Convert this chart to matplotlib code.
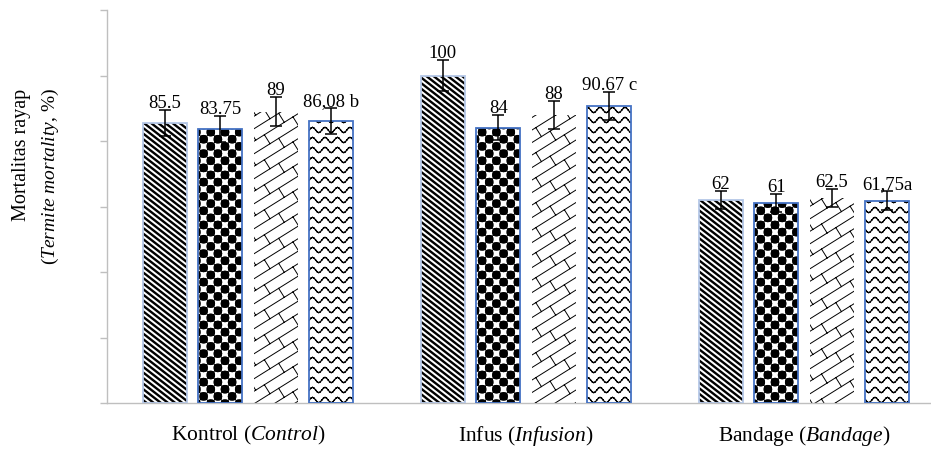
import warnings
warnings.filterwarnings('ignore')
import numpy as np
import matplotlib
matplotlib.use('Agg')
import matplotlib.pyplot as plt
from matplotlib import hatch as mhatch
from matplotlib.path import Path

# ---------------- data ----------------
categories = ['Kontrol ($\\mathit{Control}$)',
              'Infus ($\\mathit{Infusion}$)',
              'Bandage ($\\mathit{Bandage}$)']
series1 = [85.5, 100.0, 62.0]
series2 = [83.75, 84.0, 61.0]
series3 = [89.0, 88.0, 62.5]
series4 = [86.08, 90.67, 61.75]
err1 = [4.0, 4.6, 2.7]
err2 = [4.0, 3.8, 2.7]
err3 = [4.4, 4.2, 2.7]
err4 = [4.0, 4.2, 2.9]
labels1 = ['85.5', '100', '62']
labels2 = ['83.75', '84', '61']
labels3 = ['89', '88', '62.5']
labels4 = ['86,08 b', '90.67 c', '61,75a']
yticks = [0, 20, 40, 60, 80, 100, 120]

# ---------------- custom hatch patterns ----------------
class _CustomHatch(mhatch.HatchPatternBase):
    char = None

    def __init__(self, hatch, density):
        self.shapes = self.build() if (hatch and self.char in hatch) else []
        self.num_vertices = sum(len(s[0]) for s in self.shapes)

    def set_vertices_and_codes(self, vertices, codes):
        i = 0
        for verts, cds in self.shapes:
            n = len(verts)
            vertices[i:i + n] = verts
            codes[i:i + n] = cds
            i += n


def _seg(a, b):
    return (np.array([a, b], float), [Path.MOVETO, Path.LINETO])


def _poly(pts):
    pts = list(pts) + [pts[0]]
    return (np.array(pts, float),
            [Path.MOVETO] + [Path.LINETO] * (len(pts) - 2) + [Path.CLOSEPOLY])


class DownDiagHatch(_CustomHatch):
    char = 'd'

    def build(self):
        n, k = 18, 14
        s = k / n
        segs = []
        for j in range(-3, n + k + 4):
            c = j / n
            segs.append(_seg((-0.2, c + 0.2 * s), (1.2, c - 1.2 * s)))
        return segs


class WaveHatch(_CustomHatch):
    char = '~'

    def build(self):
        rows, periods, amp, k = 10, 8, 0.026, 8
        segs = []
        xs = np.linspace(-1 / periods, 1 + 1 / periods, (periods + 2) * k + 1)
        for r in range(-1, rows + 1):
            y0 = r / rows
            ys = y0 + amp * np.cos(2 * np.pi * periods * xs)
            for j in range(len(xs) - 1):
                segs.append(_seg((xs[j], ys[j]), (xs[j + 1], ys[j + 1])))
        return segs


class BrickHatch(_CustomHatch):
    char = 'b'

    def build(self):
        n, kk, q = 8, 5, 3
        s = kk / n
        d = 1.0 / n
        L = 2.0 / (2 * q + 1)
        lam = d / (1 + s * s)
        segs = []
        for k in range(-kk - 3, n + 4):
            c = k * d
            segs.append(_seg((-0.3, -0.3 * s + c), (1.3, 1.3 * s + c)))
            for j in range(-3, int(1.6 / L) + 3):
                t = j * L + (k % 2) * L / 2 - 0.3
                segs.append(_seg((t, s * t + c), (t - lam * s, s * t + c + lam)))
        return segs


class CheckerHatch(_CustomHatch):
    char = 'c'

    def build(self):
        N = 14
        sz = 1.0 / N
        shapes = []
        ang = np.linspace(0, 2 * np.pi, 17)[:-1]
        for i in range(-1, N + 1):
            for j in range(-1, N + 1):
                if (i + j) % 2 == 0:
                    x0, y0 = i * sz, j * sz
                    shapes.append(_poly([(x0, y0), (x0 + sz, y0),
                                         (x0 + sz, y0 + sz), (x0, y0 + sz)]))
                    cx, cy, r = x0 + sz / 2, y0 + sz / 2, 0.6 * sz
                    shapes.append(_poly([(cx + r * np.cos(a), cy + r * np.sin(a))
                                         for a in ang]))
        return shapes


for cls in (DownDiagHatch, WaveHatch, BrickHatch, CheckerHatch):
    if cls not in mhatch._hatch_types:
        mhatch._hatch_types.append(cls)

# ---------------- figure ----------------
plt.rcParams['font.family'] = ['Liberation Serif', 'DejaVu Serif']
plt.rcParams['mathtext.fontset'] = 'custom'
plt.rcParams['mathtext.rm'] = 'Liberation Serif'
plt.rcParams['mathtext.it'] = 'Liberation Serif:style=italic'

fig = plt.figure(figsize=(9.31, 4.5), dpi=100)
ax = fig.add_axes([107 / 931, 47 / 450, 824 / 931, 393 / 450])

x = np.arange(len(categories))
step, width = 0.2, 0.158
series = [series1, series2, series3, series4]
errs = [err1, err2, err3, err4]
labels = [labels1, labels2, labels3, labels4]
hatches = ['d', 'c', 'b', '~']
hatch_lw = [1.7, 0.2, 0.7, 0.9]
outline = ['#b4c7e7', '#4472c4', None, '#4472c4']

for i, (vals, er, lab) in enumerate(zip(series, errs, labels)):
    xpos = x + (i - 1.5) * step
    with plt.rc_context({'hatch.linewidth': hatch_lw[i]}):
        bars = ax.bar(xpos, vals, width, facecolor='white', edgecolor='black',
                      linewidth=0, hatch=hatches[i], zorder=2)
    for p in bars:
        if hasattr(p, 'set_hatch_linewidth'):
            p.set_hatch_linewidth(hatch_lw[i])
    if outline[i] is not None:
        ax.bar(xpos, vals, width, fill=False, edgecolor=outline[i],
               linewidth=1.3, zorder=3)
    ax.errorbar(xpos, vals, yerr=er, fmt='none', ecolor='black',
                elinewidth=1.1, capsize=4, capthick=1.1, zorder=4)
    for xp, v, e, t in zip(xpos, vals, er, lab):
        ax.annotate(t, (xp, v + e), xytext=(0, 1.5), textcoords='offset points',
                    ha='center', va='baseline', fontsize=13.5, zorder=5)

ax.set_xlim(-0.507, 2.457)
ax.set_ylim(0, 120)
ax.set_yticks(yticks)
ax.set_yticklabels([''] * len(yticks))
ax.tick_params(axis='y', length=5, color='#bfbfbf', width=1, direction='out')
ax.set_xticks(x)
ax.set_xticklabels(categories, fontsize=15.5)
ax.tick_params(axis='x', length=0, pad=15)
for s in ('top', 'right'):
    ax.spines[s].set_visible(False)
for s in ('left', 'bottom'):
    ax.spines[s].set_color('#bfbfbf')
    ax.spines[s].set_linewidth(1)

fig.text(22 / 931, 1 - 89 / 450, 'Mortalitas rayap', rotation=90, ha='center',
         va='top', fontsize=14.5)
fig.text(50 / 931, 1 - 88 / 450, '($\\mathit{Termite\\ mortality}$, %)', rotation=90,
         ha='center', va='top', fontsize=14)

fig.savefig('out.png', dpi=100)
